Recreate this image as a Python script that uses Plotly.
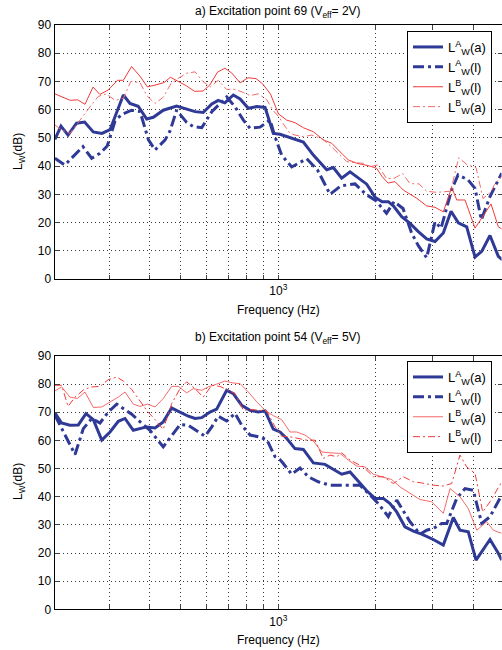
import plotly.graph_objects as go

# ---------------- data: a) excitation point 69 ----------------
a_fa = [204, 213, 224, 238, 252, 268, 285, 302, 332, 348, 369, 392, 411, 441, 485, 521, 553, 586, 623, 652,
        684, 726, 762, 808, 858, 910, 965, 1012, 1100, 1195, 1283, 1411, 1479, 1570, 1666, 1767, 1876, 1990,
        2092, 2187, 2267, 2406, 2553, 2708, 2874, 3050, 3235, 3418, 3600, 3821, 4054, 4252, 4510, 4785, 4923]
a_va = [49.5, 54.2, 51, 55.2, 55.6, 52.1, 51.6, 52.9, 65.2, 62.2, 61.2, 56.7, 57.3, 59.8, 61.3, 60.3, 59.3, 59, 62, 63.3,
        62.4, 65.2, 63.8, 60.5, 61.1, 60.8, 51.6, 51.3, 50, 48.5, 43.9, 38.7, 39.5, 35.7, 38, 35.7, 33.6, 29,
        27.4, 27.4, 25.9, 22.1, 19.7, 16.8, 14.2, 13.3, 16.3, 24, 19.9, 18.5, 7.8, 9.8, 15.4, 8, 6.8]

a_fl = [204, 219, 249, 265, 281, 296, 313, 328, 352, 374, 397, 416, 447, 463, 485, 521, 546, 580, 623, 693,
        735, 780, 818, 878, 943, 977, 1024, 1100, 1224, 1322, 1445, 1560, 1726, 1866, 2004, 2160, 2278, 2429,
        2584, 2708, 2874, 3050, 3184, 3430, 3593, 3858, 4054, 4240, 4510, 4902]
a_vl = [42.8, 40.4, 46.9, 42.8, 44.5, 47.1, 56, 58.3, 59.8, 59.3, 49.3, 45.7, 49.3, 52.5, 59.8, 55.5, 54, 53.6, 59.3, 64.5,
        61, 56.3, 53.4, 53.8, 56.3, 50.4, 43.9, 39.7, 42.6, 38.6, 30, 33, 33.7, 30, 27.7, 23.3, 27.4, 25,
        16.2, 11.8, 7.5, 20.3, 18, 31.5, 36.9, 35.1, 32.1, 21, 29.2, 37.5]

a_fbl = [204, 214, 227.5, 239.7, 252.7, 267.6, 281, 298.3, 318.5, 332, 352, 374, 393.7, 416, 443.6, 463.9, 490.9, 521,
         550.8, 585.5, 613.8, 649, 684, 717.8, 762, 806.2, 853.3, 893.6, 946, 1001, 1062, 1126, 1195, 1283, 1377,
         1462, 1551, 1646, 1747, 1920, 2014, 2092, 2183, 2294, 2434, 2678, 2874, 3050, 3235, 3434, 3559, 3776,
         4054, 4271, 4543, 4785, 4923]
a_vbl = [65.6, 64.5, 63.3, 63.5, 61.9, 68, 65.4, 67, 70.4, 70.4, 75.3, 71.8, 68.1, 68.7, 69.6, 71.5, 69.9, 68.4,
         66.5, 66.6, 68.7, 73.3, 74.7, 73, 69.5, 71.3, 71, 69.2, 65.5, 58.5, 56.3, 55.4, 53.6, 52.2, 49.3,
         48.1, 45.1, 42.2, 41, 40, 39.2, 36.3, 34, 34.5, 31.5, 28.6, 25.9, 25.4, 23.8, 32.5, 28, 28,
         18, 21.9, 26.6, 18.5, 17.6]

a_fba = [204, 214, 227.2, 237.1, 249.2, 263.8, 277.8, 294.1, 313, 332, 350.1, 374, 392, 416, 441, 466.2, 491, 521, 553,
         586, 616.5, 652, 691.8, 735, 775.1, 818, 867.4, 920.8, 959.6, 1001, 1036, 1087, 1126, 1195, 1269, 1369,
         1455, 1515, 1627, 1739, 1831, 1920, 2026, 2163, 2294, 2420, 2553, 2721, 2874, 3083, 3406, 3610, 3830,
         4083, 4292, 4543, 4674, 4913]
a_vba = [54.6, 52.8, 51.6, 54.5, 57.7, 61.5, 64.7, 65.6, 63.3, 64, 70, 69.6, 65, 62.2, 64.4, 69.3, 71.1, 72.9, 73.4,
         69.9, 68.1, 70.4, 67.2, 67.2, 66.2, 65, 65.6, 63.6, 60, 57.6, 55, 51.6, 51, 50.4, 51, 49.6,
         47, 45.1, 41.6, 41.2, 41, 39.8, 40.4, 35.5, 35.8, 37.4, 33.8, 33.7, 31.1, 30.7, 31.1, 43, 40.5,
         39.5, 28.5, 30.9, 33.9, 36.5]

# ---------------- data: b) excitation point 54 ----------------
b_fa = [204, 214, 227, 241, 254.5, 268.2, 284.7, 302, 320.3, 335.9, 356.4, 374, 392, 416, 441, 468.3, 497, 527.1, 553,
        579.9, 615.1, 645.1, 692.5, 726, 770.7, 818, 867, 910, 965, 1012, 1062, 1126, 1195, 1283, 1394, 1479, 1570,
        1666, 1767, 1876, 1990, 2111, 2214, 2322, 2462, 2614, 2774, 3012, 3235, 3474, 3643, 3864, 4083, 4252,
        4510, 4785, 4902]
b_va = [69.8, 66.2, 65.4, 65.5, 69.5, 67.4, 60.1, 63, 66.8, 67.8, 63.6, 64.2, 64.8, 64.4, 66.6, 71.5, 70.1, 68.6, 67.8,
        68.1, 70.1, 71.1, 77.8, 76.6, 72.5, 70.7, 70.1, 70.5, 64, 63, 60.7, 57.1, 56.8, 52, 51.5, 49.7, 48,
        48.8, 45.6, 42.1, 39.4, 39.4, 37.6, 34.6, 29.3, 27.8, 26.7, 24.8, 22.8, 32.6, 28.1, 27.5, 17.5, 20.5,
        24.8, 19.9, 17.5]

b_fl = [204, 235.4, 249.7, 265.1, 281.2, 298.3, 316.7, 352.4, 374, 401.3, 441, 468.3, 497, 527.1, 559.6, 593.6, 623,
        652, 692.5, 735, 770.7, 818, 867, 921, 977, 1012, 1036, 1100, 1167, 1238, 1329, 1445, 1588, 1686, 1788,
        1920, 2036, 2187, 2322, 2553, 2741, 2874, 3012, 3199, 3315, 3559, 3776, 4004, 4252, 4510, 4902]
b_vl = [69, 55, 64.2, 67.8, 66.2, 70.1, 72.9, 69.3, 66.6, 63.6, 57.7, 61.9, 65.6, 65.4, 63.3, 61.5, 64.8,
        68.6, 66.9, 69.6, 65.4, 61.9, 61.3, 60.3, 54.2, 53.2, 51.8, 48, 50.2, 47.1, 45.3, 44.1, 44.1, 44.1, 44.1,
        40.6, 37.6, 32.9, 38.8, 31.1, 26.7, 28.1, 28.7, 30.5, 30.5, 39.4, 42.9, 42.3, 30.5, 32.9, 40.6]

b_fba = [204, 214, 227, 239.3, 252.7, 268.2, 284.7, 302, 320.3, 335.9, 356.4, 374, 393.7, 416, 441, 468.3, 490.9, 521,
         546.2, 579.9, 607.7, 645.1, 684, 726, 762, 808, 858, 910, 965, 1024, 1087, 1140, 1209, 1283, 1362, 1445,
         1551, 1646, 1747, 1853, 1967, 2085, 2241, 2376, 2553, 2741, 2978, 3235, 3394, 3643, 3864, 4104, 4406,
         4618, 4902]
b_vba = [77.6, 79, 75.4, 74.9, 77.2, 71.7, 71.9, 73.7, 75.4, 77.2, 72.9, 72.1, 72.9, 71.9, 74.9, 79.2, 79.2, 76.9,
         78.4, 77.8, 79, 80, 81.1, 80.4, 80.2, 77.2, 73.7, 70.7, 68.8, 67.4, 63, 63, 61.9, 59.8, 55.9, 55.6,
         55.4, 53, 50.9, 50.6, 48, 47.1, 46.1, 43.5, 41.2, 39, 38.2, 34.1, 42.9, 40, 35.8, 28.1, 31.1,
         28.1, 27]

b_fbl = [204, 214, 224, 235.4, 250.9, 265.1, 281.2, 298.3, 316.7, 332, 352.4, 374, 392, 416, 441, 468.3, 497, 521,
         553, 586, 623, 660.4, 735, 780, 818, 867, 921, 977, 1024, 1087, 1153, 1224, 1298, 1377, 1445, 1515, 1570,
         1666, 1831, 1967, 2111, 2267, 2434, 2614, 2774, 3012, 3235, 3434, 3643, 3821, 4054, 4281, 4510, 4902]
b_vbl = [79.6, 79.6, 72.1, 75.4, 78.1, 79, 79.2, 81.6, 82.5, 81.1, 78.1, 73.7, 70.7, 67.4, 63.9, 73.1, 78.4, 80.8,
         78.4, 75.4, 79.6, 79.2, 76.7, 70.7, 71, 70.7, 70.5, 64.8, 61.5, 61.3, 60.7, 60.1, 60.1, 53.6, 54.8, 54.2,
         55.6, 53, 50.6, 47.1, 47.1, 44.7, 47.1, 45.3, 44.9, 44.1, 43.8, 44.7, 54.8, 50.6, 48.3, 34.6, 38.2, 45.3]

grid_ticks = [300, 400, 500, 600, 700, 800, 900, 1000, 2000, 3000, 4000]
grid_text = ["", "", "", "", "", "", "", "10<sup>3</sup>", "", "", ""]
y_ticks = [0, 10, 20, 30, 40, 50, 60, 70, 80, 90]

BLUE = "#2E3A96"
RED = "#F03A3A"
RED_LIGHT = "#F46A6A"
DASHDOT_THICK = "11px,4px,3px,4px"
DASHDOT_THIN = "7px,3px,2px,3px"

W, H = 502, 650
FONT = "Liberation Sans, Arial, sans-serif"

fig = go.Figure()

def add(fx, vy, name, color, width, dash, xa, ya, legend):
    fig.add_trace(go.Scatter(x=fx, y=vy, mode="lines", name=name,
                             line=dict(color=color, width=width, dash=dash),
                             xaxis=xa, yaxis=ya, legend=legend, hoverinfo="skip"))

add(a_fa, a_va, "L<sup>A</sup><sub>W</sub>(a)", BLUE, 3, "solid", "x", "y", "legend")
add(a_fl, a_vl, "L<sup>A</sup><sub>W</sub>(l)", BLUE, 3, DASHDOT_THICK, "x", "y", "legend")
add(a_fbl, a_vbl, "L<sup>B</sup><sub>W</sub>(l)", RED, 1, "solid", "x", "y", "legend")
add(a_fba, a_vba, "L<sup>B</sup><sub>W</sub>(a)", RED_LIGHT, 1, DASHDOT_THIN, "x", "y", "legend")

add(b_fa, b_va, "L<sup>A</sup><sub>W</sub>(a)", BLUE, 3, "solid", "x2", "y2", "legend2")
add(b_fl, b_vl, "L<sup>A</sup><sub>W</sub>(l)", BLUE, 3, DASHDOT_THICK, "x2", "y2", "legend2")
add(b_fba, b_vba, "L<sup>B</sup><sub>W</sub>(a)", RED_LIGHT, 1, "solid", "x2", "y2", "legend2")
add(b_fbl, b_vbl, "L<sup>B</sup><sub>W</sub>(l)", RED, 1, DASHDOT_THIN, "x2", "y2", "legend2")

x_left, x_right = 54.5, 501.5
xrange = [2.3084, 3.6897]
top = (25, 279)
bot = (356, 609.3)

def ydom(p):
    return [1 - p[1] / H, 1 - p[0] / H]

GRIDC = "#3a3a3a"
GRIDDASH = "1px,3px"

xcommon = dict(type="log", range=xrange, domain=[x_left / W, x_right / W],
               tickvals=grid_ticks, ticktext=grid_text, ticks="inside", ticklen=4,
               showline=True, linecolor="black", linewidth=1, mirror="ticks",
               showgrid=True, gridcolor=GRIDC, griddash=GRIDDASH, gridwidth=1,
               ticklabelstandoff=1,
               tickfont=dict(family=FONT, size=12, color="black"), zeroline=False)
ycommon = dict(range=[0, 90], tickvals=y_ticks, ticks="inside", ticklen=4,
               showline=True, linecolor="black", linewidth=1, mirror="ticks",
               showgrid=True, gridcolor=GRIDC, griddash=GRIDDASH, gridwidth=1,
               tickfont=dict(family=FONT, size=12, color="black"), zeroline=False)

legcommon = dict(bgcolor="white", bordercolor="black", borderwidth=1,
                 font=dict(family=FONT, size=13, color="black"),
                 xanchor="right", yanchor="top", tracegroupgap=0, itemwidth=30)

fig.update_layout(
    width=W, height=H, margin=dict(l=0, r=0, t=0, b=0, autoexpand=False),
    paper_bgcolor="white", plot_bgcolor="white",
    font=dict(family=FONT, color="black"),
    hovermode=False,
    xaxis=dict(xcommon, anchor="y"),
    yaxis=dict(ycommon, domain=ydom(top), anchor="x"),
    xaxis2=dict(xcommon, anchor="y2"),
    yaxis2=dict(ycommon, domain=ydom(bot), anchor="x2"),
    legend=dict(legcommon, x=492 / W, y=1 - 31 / H),
    legend2=dict(legcommon, x=492 / W, y=1 - 361 / H),
)

cx = ((x_left + x_right) / 2) / W
ann = [
    dict(text="a) Excitation point 69 (V<sub>eff</sub>= 2V)", x=cx, y=1 - 12 / H),
    dict(text="b) Excitation point 54 (V<sub>eff</sub>= 5V)", x=cx, y=1 - 338 / H),
    dict(text="Frequency (Hz)", x=cx, y=1 - 310 / H),
    dict(text="Frequency (Hz)", x=cx, y=1 - 640 / H),
    dict(text="L<sub>W</sub>(dB)", x=19 / W, y=1 - 152 / H, textangle=-90),
    dict(text="L<sub>W</sub>(dB)", x=19 / W, y=1 - 482 / H, textangle=-90),
]
for a in ann:
    fig.add_annotation(xref="paper", yref="paper", showarrow=False,
                       xanchor="center", yanchor="middle",
                       font=dict(family=FONT, size=12, color="black"), **a)

fig.write_html("out.html", config={"displayModeBar": False, "staticPlot": True},
               post_script="document.body.style.margin='0';document.body.style.overflow='hidden';")
